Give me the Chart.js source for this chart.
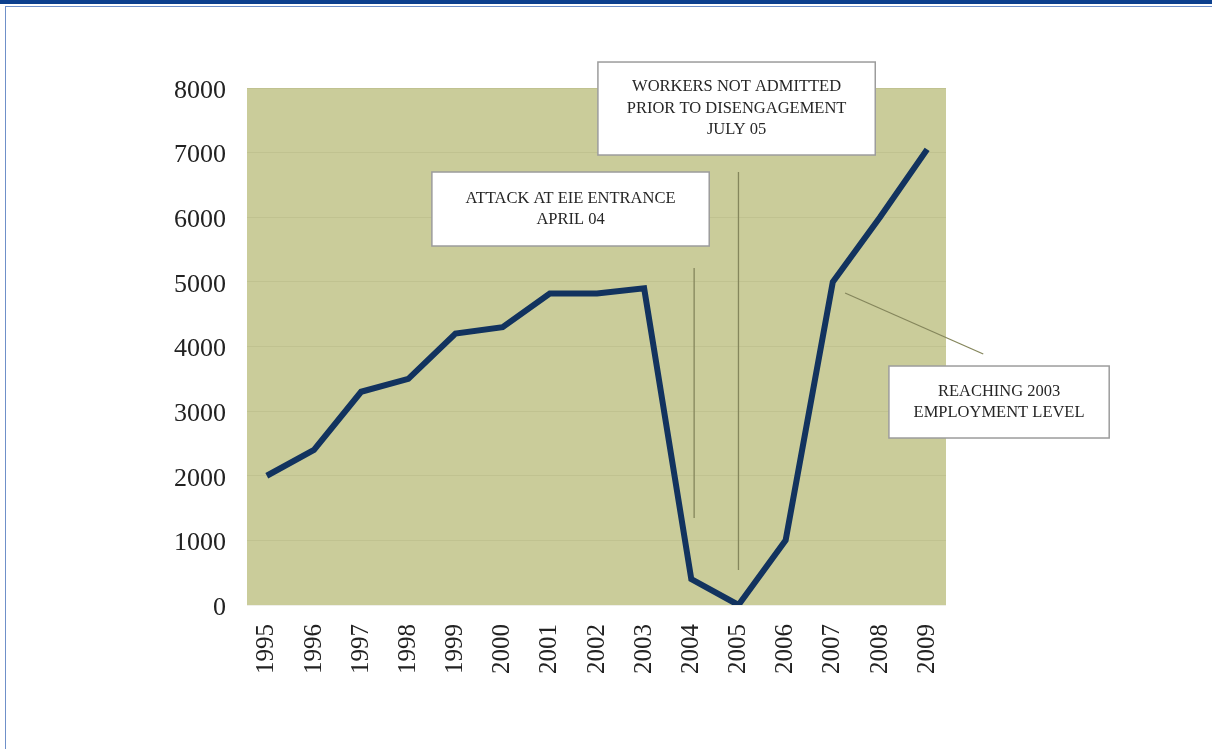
<!DOCTYPE html>
<html lang="en">
<head>
    <meta charset="UTF-8">
    <title>Employment 1995-2009</title>
    <script src="https://cdn.jsdelivr.net/npm/chart.js"></script>
    <style>
        body { margin: 0; background: #fff; }
        .topbar { position: absolute; left: 0; top: 0; width: 1212px; height: 4px; background: #0b3f8e; }
        .frame { position: absolute; left: 5px; top: 6px; width: 1207px; height: 743px;
                 border-left: 1.5px solid #6f90c9; border-top: 1.5px solid #6f90c9; box-sizing: border-box; }
        #chart { position: absolute; left: 0; top: 0; }
    </style>
</head>
<body>
    <div class="topbar"></div>
    <div class="frame"></div>
    <canvas id="chart" width="1212" height="749"></canvas>
    <script>
        const years = ['1995', '1996', '1997', '1998', '1999', '2000', '2001', '2002',
                       '2003', '2004', '2005', '2006', '2007', '2008', '2009'];
        const workers = [2000, 2400, 3300, 3500, 4200, 4300, 4820, 4820,
                         4900, 400, 0, 1000, 5000, 6000, 7050];

        // callouts, in data units (x = year index, y = value)
        const boxes = [
            { x1: 3.5, x2: 9.38, y1: 6700, y2: 5555, lines: ['ATTACK AT EIE ENTRANCE', 'APRIL 04'] },
            { x1: 7.02, x2: 12.9, y1: 8402, y2: 6963, lines: ['WORKERS NOT ADMITTED', 'PRIOR TO DISENGAGEMENT', 'JULY 05'] },
            { x1: 13.19, x2: 17.86, y1: 3698, y2: 2584, lines: ['REACHING 2003', 'EMPLOYMENT LEVEL'] }
        ];
        const pointers = [
            { x1: 9.06, y1: 5215, x2: 9.06, y2: 1346 },
            { x1: 10.0, y1: 6700, x2: 10.0, y2: 542 },
            { x1: 12.26, y1: 4828, x2: 15.19, y2: 3884 }
        ];

        const serif = "'Liberation Serif', 'DejaVu Serif', serif";

        const plotBg = {
            id: 'plotBg',
            beforeDraw(chart) {
                const a = chart.chartArea, ctx = chart.ctx;
                ctx.save();
                ctx.fillStyle = '#cacc9a';
                ctx.fillRect(a.left, a.top, a.right - a.left, a.bottom - a.top);
                ctx.restore();
            }
        };

        const callouts = {
            id: 'callouts',
            afterDraw(chart) {
                const ctx = chart.ctx, xs = chart.scales.x, ys = chart.scales.y;
                ctx.save();
                ctx.strokeStyle = '#85865c';
                ctx.lineWidth = 1.3;
                pointers.forEach(p => {
                    ctx.beginPath();
                    ctx.moveTo(xs.getPixelForValue(p.x1), ys.getPixelForValue(p.y1));
                    ctx.lineTo(xs.getPixelForValue(p.x2), ys.getPixelForValue(p.y2));
                    ctx.stroke();
                });
                ctx.font = '16.5px ' + serif;
                ctx.textAlign = 'center';
                ctx.textBaseline = 'middle';
                boxes.forEach(b => {
                    const l = xs.getPixelForValue(b.x1), r = xs.getPixelForValue(b.x2);
                    const t = ys.getPixelForValue(b.y1), bt = ys.getPixelForValue(b.y2);
                    ctx.fillStyle = '#ffffff';
                    ctx.fillRect(l, t, r - l, bt - t);
                    ctx.strokeStyle = '#9c9c9c';
                    ctx.lineWidth = 1.5;
                    ctx.strokeRect(l, t, r - l, bt - t);
                    ctx.fillStyle = '#262626';
                    const cx = (l + r) / 2, cy = (t + bt) / 2, lh = 21.5;
                    b.lines.forEach((s, i) => {
                        ctx.fillText(s, cx, cy + (i - (b.lines.length - 1) / 2) * lh);
                    });
                });
                ctx.restore();
            }
        };

        new Chart(document.getElementById('chart'), {
            type: 'line',
            data: {
                datasets: [{
                    data: workers.map((v, i) => ({ x: i, y: v })),
                    borderColor: '#12335f',
                    borderWidth: 6,
                    pointRadius: 0,
                    tension: 0,
                    fill: false
                }]
            },
            options: {
                responsive: false,
                animation: false,
                layout: { padding: { left: 0, top: 88, right: 266, bottom: 0 } },
                plugins: { legend: { display: false }, tooltip: { enabled: false } },
                scales: {
                    x: {
                        type: 'linear',
                        min: -0.42,
                        max: 14.4,
                        afterFit(scale) { scale.height = 144; },
                        border: { display: false },
                        grid: { display: false, drawTicks: false },
                        ticks: {
                            stepSize: 1,
                            includeBounds: false,
                            autoSkip: false,
                            maxRotation: 90,
                            minRotation: 90,
                            padding: 19,
                            color: '#222',
                            font: { family: serif, size: 25 },
                            callback: v => years[v] ?? ''
                        }
                    },
                    y: {
                        min: 0,
                        max: 8000,
                        afterFit(scale) { scale.width = 247; },
                        border: { display: false },
                        grid: { color: 'rgba(120,120,70,0.12)', drawTicks: false },
                        ticks: {
                            stepSize: 1000,
                            padding: 21,
                            labelOffset: 3,
                            color: '#222',
                            font: { family: serif, size: 26 },
                            callback: v => String(v)
                        }
                    }
                }
            },
            plugins: [plotBg, callouts]
        });
    </script>
</body>
</html>
